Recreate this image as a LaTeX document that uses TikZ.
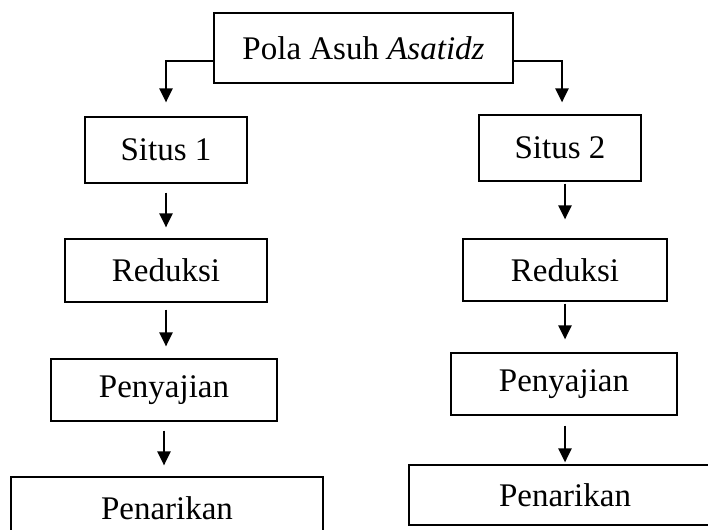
\documentclass[tikz,border=0pt]{standalone}
\usepackage{fontspec}
\setmainfont{Liberation Serif}
\usetikzlibrary{arrows.meta}
\tikzset{
  box/.style={draw, rectangle, line width=1.2pt, inner sep=0pt, font=\fontsize{33}{39}\selectfont},
  arr/.style={-{Triangle[length=14pt,width=13pt]}, line width=2.3pt},
}
\begin{document}
\begin{tikzpicture}[x=1pt, y=-1pt]
\useasboundingbox (0,0) rectangle (708,529);

% Top
\node[box, minimum width=299pt, minimum height=70pt] (pola) at (363.5,48) {Pola Asuh \textit{Asatidz}};

% Situs 1
\node[box, minimum width=162pt, minimum height=66pt] (situsA) at (166,150) {Situs 1};
\node[box, minimum width=202pt, minimum height=63pt] (reduksiA) at (166,270.5) {Reduksi};
\node[box, minimum width=226pt, minimum height=62pt] (penyajianA) at (164,390) {Penyajian};
\node[box, minimum width=312pt, minimum height=62pt] (penarikanA) at (167,508) {Penarikan};

% Situs 2
\node[box, minimum width=162pt, minimum height=66pt] (situsB) at (560,148) {Situs 2};
\node[box, minimum width=204pt, minimum height=62pt] (reduksiB) at (565,270) {Reduksi};
\node[box, minimum width=226pt, minimum height=62pt] (penyajianB) at (564,384) {Penyajian};
\node[box, minimum width=312pt, minimum height=60pt] (penarikanB) at (565,495) {Penarikan};

% Branches
\draw[arr, shorten >=14pt] ([yshift=-13pt]pola.west) -| (situsA.north);
\draw[arr, shorten >=12pt] ([yshift=-13pt]pola.east) -| ([xshift=2pt]situsB.north);

% Left column
\draw[arr, shorten <=9pt, shorten >=11pt] (situsA.south) -- (situsA.south |- reduksiA.north);
\draw[arr, shorten <=7pt, shorten >=12pt] (reduksiA.south) -- (reduksiA.south |- penyajianA.north);
\draw[arr, shorten <=9pt, shorten >=11pt] (penyajianA.south) -- (penyajianA.south |- penarikanA.north);

% Right column
\draw[arr, shorten <=2pt, shorten >=19pt] (situsB.south -| reduksiB.north) -- (reduksiB.north);
\draw[arr, shorten <=2pt, shorten >=13pt] (reduksiB.south) -- (reduksiB.south |- penyajianB.north);
\draw[arr, shorten <=10pt, shorten >=2pt] (penyajianB.south -| reduksiB.south) -- (reduksiB.south |- penarikanB.north);
\end{tikzpicture}
\end{document}
